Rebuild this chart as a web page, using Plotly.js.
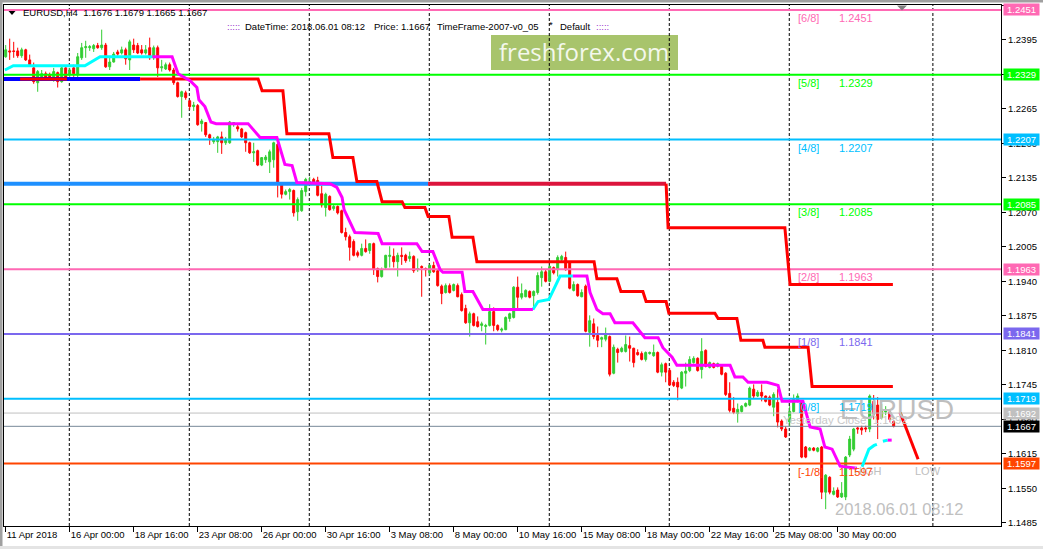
<!DOCTYPE html>
<html><head><meta charset="utf-8">
<script src="https://cdn.plot.ly/plotly-3.0.1.min.js"></script>
<style>html,body{margin:0;padding:0;background:#fff;}#chart{width:1043px;height:549px;}</style>
</head><body><div id="chart"></div>
<script>
// ---- candle data (EURUSD H4, 11 Apr 2018 08:00 .. 1 Jun 2018 08:00) ----
const opens=[1.2363,1.2374,1.2374,1.2374,1.2365,1.2376,1.2357,1.2342,1.2314,1.2325,
1.2331,1.2329,1.2323,1.2333,1.2316,1.2342,1.2329,1.2342,1.2329,1.2361,
1.2380,1.2380,1.2378,1.2384,1.2380,1.2385,1.2344,1.2353,1.2372,1.2370,
1.2376,1.2357,1.2385,1.2384,1.2376,1.2370,1.2380,1.2361,1.2380,1.2342,
1.2340,1.2348,1.2338,1.2314,1.2288,1.2295,1.2280,1.2269,1.2271,1.2237,
1.2239,1.2216,1.2203,1.2203,1.2212,1.2201,1.2201,1.2235,1.2231,1.2227,
1.2220,1.2201,1.2182,1.2186,1.2159,1.2169,1.2165,1.2169,1.2198,1.2122,
1.2104,1.2109,1.2111,1.2071,1.2073,1.2109,1.2126,1.2132,1.2130,1.2105,
1.2079,1.2100,1.2077,1.2081,1.2073,1.2032,1.2024,1.2015,1.1994,1.1989,
1.2002,1.1998,1.2011,1.1964,1.1949,1.1966,1.1987,1.1987,1.1977,1.1989,
1.1989,1.1983,1.1987,1.1962,1.1968,1.1964,1.1956,1.1970,1.1960,1.1931,
1.1919,1.1932,1.1923,1.1932,1.1915,1.1889,1.1862,1.1879,1.1864,1.1857,
1.1855,1.1857,1.1883,1.1857,1.1848,1.1849,1.1870,1.1872,1.1929,1.1910,
1.1911,1.1921,1.1913,1.1919,1.1947,1.1958,1.1940,1.1966,1.1962,1.1981,
1.1985,1.1975,1.1923,1.1934,1.1911,1.1931,1.1844,1.1860,1.1838,1.1831,
1.1831,1.1836,1.1767,1.1812,1.1808,1.1808,1.1819,1.1814,1.1806,1.1804,
1.1793,1.1804,1.1800,1.1806,1.1769,1.1785,1.1772,1.1750,1.1750,1.1739,
1.1767,1.1772,1.1787,1.1795,1.1774,1.1810,1.1778,1.1785,1.1780,1.1780,
1.1767,1.1729,1.1701,1.1691,1.1695,1.1705,1.1707,1.1737,1.1724,1.1731,
1.1724,1.1722,1.1703,1.1712,1.1677,1.1662,1.1675,1.1695,1.1714,1.1714,
1.1628,1.1622,1.1626,1.1620,1.1628,1.1543,1.1571,1.1539,1.1547,1.1534,
1.1534,1.1613,1.1624,1.1664,1.1664,1.1664,1.1662,1.1714,1.1707,1.1684,
1.1694,1.1694,1.1676];
const highs=[1.2385,1.2397,1.2391,1.2380,1.2380,1.2378,1.2367,1.2352,1.2338,1.2338,
1.2335,1.2333,1.2342,1.2335,1.2344,1.2344,1.2342,1.2348,1.2370,1.2389,
1.2393,1.2385,1.2387,1.2389,1.2414,1.2389,1.2361,1.2372,1.2376,1.2382,
1.2380,1.2395,1.2397,1.2389,1.2385,1.2385,1.2399,1.2384,1.2384,1.2357,
1.2352,1.2352,1.2342,1.2316,1.2299,1.2299,1.2282,1.2278,1.2274,1.2246,
1.2240,1.2218,1.2212,1.2214,1.2222,1.2212,1.2242,1.2240,1.2235,1.2229,
1.2222,1.2203,1.2201,1.2188,1.2174,1.2178,1.2188,1.2203,1.2201,1.2126,
1.2113,1.2116,1.2113,1.2098,1.2116,1.2135,1.2137,1.2135,1.2137,1.2120,
1.2107,1.2102,1.2084,1.2083,1.2075,1.2041,1.2028,1.2019,1.1998,1.2011,
1.2019,1.2011,1.2013,1.1966,1.1966,1.1990,1.2006,1.2002,1.1994,1.2004,
1.1992,1.1996,1.1989,1.1983,1.1970,1.1966,1.1972,1.1977,1.1962,1.1934,
1.1936,1.1936,1.1936,1.1936,1.1919,1.1896,1.1883,1.1881,1.1874,1.1864,
1.1860,1.1897,1.1891,1.1859,1.1853,1.1874,1.1881,1.1931,1.1949,1.1936,
1.1925,1.1923,1.1923,1.1957,1.1968,1.1962,1.1970,1.1968,1.1989,1.1990,
1.1996,1.1977,1.1940,1.1936,1.1925,1.1934,1.1876,1.1870,1.1855,1.1836,
1.1853,1.1838,1.1821,1.1815,1.1817,1.1838,1.1836,1.1815,1.1812,1.1808,
1.1808,1.1808,1.1821,1.1808,1.1787,1.1787,1.1776,1.1754,1.1759,1.1771,
1.1787,1.1799,1.1799,1.1797,1.1833,1.1812,1.1789,1.1787,1.1787,1.1784,
1.1769,1.1750,1.1722,1.1710,1.1707,1.1712,1.1742,1.1746,1.1735,1.1746,
1.1725,1.1725,1.1731,1.1737,1.1680,1.1667,1.1705,1.1727,1.1729,1.1716,
1.1630,1.1628,1.1628,1.1628,1.1630,1.1577,1.1573,1.1552,1.1552,1.1562,
1.1611,1.1649,1.1664,1.1666,1.1668,1.1668,1.1727,1.1726,1.1722,1.1709,
1.1705,1.1699,1.1679];
const lows=[1.2361,1.2357,1.2361,1.2361,1.2361,1.2355,1.2344,1.2312,1.2297,1.2320,
1.2320,1.2320,1.2316,1.2305,1.2314,1.2320,1.2323,1.2325,1.2323,1.2357,
1.2361,1.2374,1.2372,1.2378,1.2376,1.2342,1.2338,1.2352,1.2365,1.2367,
1.2348,1.2338,1.2370,1.2368,1.2367,1.2367,1.2357,1.2357,1.2325,1.2335,
1.2338,1.2335,1.2310,1.2286,1.2248,1.2282,1.2263,1.2261,1.2233,1.2222,
1.2212,1.2197,1.2199,1.2182,1.2180,1.2197,1.2199,1.2231,1.2222,1.2210,
1.2184,1.2180,1.2165,1.2157,1.2157,1.2163,1.2144,1.2154,1.2098,1.2096,
1.2102,1.2094,1.2062,1.2054,1.2071,1.2100,1.2122,1.2122,1.2100,1.2079,
1.2062,1.2073,1.2073,1.2066,1.2030,1.2017,1.1979,1.1987,1.1985,1.1987,
1.1994,1.1992,1.1952,1.1938,1.1947,1.1962,1.1966,1.1966,1.1949,1.1971,
1.1975,1.1977,1.1956,1.1958,1.1911,1.1949,1.1951,1.1956,1.1930,1.1897,
1.1917,1.1917,1.1921,1.1910,1.1883,1.1860,1.1836,1.1855,1.1853,1.1846,
1.1821,1.1855,1.1846,1.1846,1.1844,1.1848,1.1864,1.1870,1.1887,1.1906,
1.1910,1.1908,1.1887,1.1915,1.1930,1.1938,1.1938,1.1953,1.1949,1.1977,
1.1960,1.1925,1.1921,1.1911,1.1910,1.1844,1.1817,1.1831,1.1816,1.1816,
1.1827,1.1761,1.1765,1.1787,1.1806,1.1806,1.1789,1.1778,1.1800,1.1791,
1.1789,1.1802,1.1798,1.1767,1.1761,1.1750,1.1743,1.1741,1.1716,1.1737,
1.1742,1.1769,1.1785,1.1770,1.1757,1.1778,1.1776,1.1776,1.1778,1.1763,
1.1724,1.1693,1.1690,1.1674,1.1693,1.1703,1.1705,1.1720,1.1722,1.1714,
1.1712,1.1705,1.1686,1.1665,1.1658,1.1645,1.1667,1.1693,1.1712,1.1607,
1.1607,1.1620,1.1620,1.1618,1.1530,1.1511,1.1539,1.1537,1.1532,1.1532,
1.1528,1.1609,1.1620,1.1653,1.1651,1.1656,1.1656,1.1680,1.1643,1.1680,
1.1688,1.1675,1.1665];
const closes=[1.2376,1.2372,1.2373,1.2365,1.2376,1.2357,1.2348,1.2316,1.2335,1.2331,
1.2323,1.2325,1.2335,1.2316,1.2342,1.2323,1.2338,1.2331,1.2363,1.2380,
1.2382,1.2382,1.2384,1.2380,1.2385,1.2344,1.2353,1.2368,1.2368,1.2376,
1.2359,1.2391,1.2376,1.2370,1.2370,1.2376,1.2361,1.2380,1.2342,1.2344,
1.2348,1.2338,1.2314,1.2288,1.2297,1.2286,1.2269,1.2272,1.2235,1.2242,
1.2216,1.2210,1.2207,1.2212,1.2201,1.2208,1.2240,1.2239,1.2227,1.2212,
1.2201,1.2182,1.2184,1.2159,1.2173,1.2174,1.2184,1.2201,1.2126,1.2104,
1.2109,1.2113,1.2069,1.2094,1.2111,1.2132,1.2128,1.2126,1.2102,1.2084,
1.2104,1.2075,1.2081,1.2069,1.2032,1.2024,1.2004,1.1989,1.1989,1.2002,
1.1996,1.2011,1.1962,1.1949,1.1962,1.1989,1.1989,1.1977,1.1989,1.1987,
1.1979,1.1987,1.1960,1.1964,1.1966,1.1962,1.1970,1.1958,1.1932,1.1917,
1.1932,1.1919,1.1934,1.1911,1.1885,1.1862,1.1879,1.1857,1.1855,1.1860,
1.1857,1.1883,1.1857,1.1849,1.1850,1.1872,1.1879,1.1929,1.1910,1.1917,
1.1923,1.1910,1.1921,1.1951,1.1958,1.1940,1.1968,1.1956,1.1985,1.1987,
1.1962,1.1927,1.1934,1.1913,1.1919,1.1846,1.1866,1.1836,1.1829,1.1834,
1.1840,1.1765,1.1816,1.1806,1.1814,1.1821,1.1814,1.1787,1.1802,1.1793,
1.1806,1.1806,1.1806,1.1769,1.1783,1.1769,1.1745,1.1744,1.1741,1.1769,
1.1771,1.1793,1.1795,1.1772,1.1808,1.1780,1.1787,1.1778,1.1785,1.1765,
1.1727,1.1697,1.1693,1.1699,1.1705,1.1710,1.1739,1.1724,1.1731,1.1724,
1.1714,1.1707,1.1727,1.1675,1.1662,1.1647,1.1695,1.1718,1.1724,1.1609,
1.1609,1.1626,1.1622,1.1626,1.1543,1.1575,1.1543,1.1545,1.1534,1.1541,
1.1609,1.1643,1.1662,1.1662,1.1660,1.1662,1.1724,1.1690,1.1680,1.1699,
1.1697,1.1680,1.1667];

// ---- axis tick data ----
const tickBars=[0,16,32,48,64,80,96,112,128,144,160,176,192,208];
const tickLabels=['11 Apr 2018','16 Apr 00:00','18 Apr 16:00','23 Apr 08:00','26 Apr 00:00','30 Apr 16:00','3 May 08:00','8 May 00:00','10 May 16:00','15 May 08:00','18 May 00:00','22 May 16:00','25 May 08:00','30 May 00:00'];
const yTicks=[1.2460,1.2395,1.2330,1.2265,1.2200,1.2135,1.2070,1.2005,1.1940,1.1875,1.1810,1.1745,1.1680,1.1615,1.1550,1.1485];
const separatorBars=[15.9,45.9,75.9,105.9,135.9,165.9,195.9,231.8];

// ---- Murrey math levels ----
const murreyLevels=[1.2451,1.2329,1.2207,1.2085,1.1963,1.1841,1.1719,1.1597];
const murreyNames=['[6/8]','[5/8]','[4/8]','[3/8]','[2/8]','[1/8]','[0/8]','[-1/8]'];
const murreyColors=['#FF69B4','#00FF00','#00BFFF','#00FF00','#FF69B4','#7B68EE','#00BFFF','#FF4500'];
const yesterdayClose=1.1692, lastPrice=1.1667;

// ---- indicator lines (bar index, price) ----
const redStepX=[3.6,15.3,null,33.6,63.1,64.1,69.3,70.3,80.8,81.8,86.8,87.8,92.8,94.1,99.1,99.8,104.8,105.6,110.8,111.6,116.8,117.8,147.1,147.8,152.8,153.8,159.3,160.1,165.1,165.8,177.3,178.1,182.8,183.8,189.3,189.8,200.6,201.6,221.8];
const redStepY=[1.2321,1.2321,null,1.2321,1.2321,1.2299,1.2299,1.2218,1.2218,1.2173,1.2173,1.2128,1.2128,1.2090,1.2090,1.2079,1.2079,1.2062,1.2062,1.2023,1.2023,1.1977,1.1977,1.1945,1.1945,1.1921,1.1921,1.1902,1.1902,1.1880,1.1880,1.1870,1.1870,1.1829,1.1829,1.1816,1.1816,1.1742,1.1742];
const upperHX=[105.6,165.1], upperHY=[1.2124,1.2124];
const upperStepX=[165.1,165.6,194.8,196.1,221.8];
const upperStepY=[1.2124,1.2041,1.2041,1.1934,1.1934];
const blueX=[-1,33.6], blueY=[1.2321,1.2321];
const dodgerX=[-1,105.6], dodgerY=[1.2124,1.2124];
const magentaX=[36.7,41.6,43.1,46.1,47.8,48.3,49.8,51.3,52.6,60.6,63.6,67.8,69.8,71.6,72.8,81.1,82.8,84.1,84.6,86.1,87.3,93.1,94.1,102.8,104.1,106.8,108.6,109.3,114.1,114.8,116.8,119.3,131.8,null,
 141.8,145.3,146.1,147.8,149.3,151.1,152.3,156.8,159.8,163.1,164.3,166.6,167.8,181.1,182.3,184.3,185.6,190.3,193.1,194.1,199.3,201.1,203.6,204.8,206.6,207.8,208.6,212.8,null,220.5,221.5];
const magentaY=[1.2363,1.2363,1.2331,1.2318,1.2305,1.2282,1.2269,1.2240,1.2237,1.2237,1.2211,1.2211,1.2160,1.2158,1.2126,1.2124,1.2117,1.2098,1.2075,1.2052,1.2032,1.2030,1.2011,1.2011,1.1996,1.1996,1.1962,1.1957,1.1957,1.1921,1.1921,1.1887,1.1887,null,
 1.1950,1.1950,1.1919,1.1887,1.1879,1.1879,1.1862,1.1862,1.1834,1.1834,1.1815,1.1797,1.1782,1.1782,1.1760,1.1760,1.1750,1.1750,1.1744,1.1714,1.1714,1.1666,1.1662,1.1628,1.1624,1.1605,1.1592,1.1588,null,1.1641,1.1641];
const cyanX=[-0.2,1.9,19.8,23.6,36.7,null,131.8,133.1,135.8,137.3,138.6,141.8,null,214.1,215.8,217.1,217.8,null,219.3,220.5];
const cyanY=[1.2338,1.2346,1.2346,1.2363,1.2363,null,1.1887,1.1902,1.1906,1.1929,1.1950,1.1950,null,1.1591,1.1624,1.1631,1.1633,null,1.1639,1.1641];
const projX=[223.6,228.1], projY=[1.1693,1.1605];

// ---- geometry helpers (layout only) ----
const W=1043,H=549,L=4,T=5,R=42,B=23;
const PW=W-L-R, PH=H-T-B;
const px=x=>(x-L)/PW;
const py=y=>(H-B-y)/PH;
const FONT='Liberation Sans, Arial, sans-serif';

const bars=opens.map((_,i)=>i);
const traces=[];
traces.push({type:'candlestick',x:bars,open:opens,high:highs,low:lows,close:closes,
  increasing:{line:{color:'#32CD32',width:1},fillcolor:'#32CD32'},
  decreasing:{line:{color:'#FF0000',width:1},fillcolor:'#FF0000'},
  whiskerwidth:0,hoverinfo:'skip',showlegend:false});
function line(x,y,color,width){traces.push({type:'scatter',mode:'lines',x:x,y:y,line:{color:color,width:width},hoverinfo:'skip',showlegend:false,connectgaps:false});}
murreyLevels.forEach((v,i)=>line([-1,260],[v,v],murreyColors[i],2));
line([-1,260],[yesterdayClose,yesterdayClose],'#C0C0C0',1);
line([-1,260],[lastPrice,lastPrice],'#778899',1);
line(blueX,blueY,'#0000FF',4);
line(dodgerX,dodgerY,'#1E90FF',4);
line(upperHX,upperHY,'#DC143C',4);
line(upperStepX,upperStepY,'#FF0000',3);
line(redStepX,redStepY,'#FF0000',3);
line(cyanX,cyanY,'#00FFFF',3);
line(magentaX,magentaY,'#FF00FF',3);
line(projX,projY,'#FF0000',3);

const ann=[];
function txt(x,y,text,size,color,anchor,family){ann.push({xref:'paper',yref:'paper',x:px(x),y:py(y),text:text,showarrow:false,xanchor:anchor||'left',yanchor:'middle',font:{family:family||FONT,size:size,color:color}});}
// header
txt(20.7,13,'EURUSD,H4\u00a0\u00a01.1676\u00a01.1679\u00a01.1665\u00a01.1667',9.5,'#000');
txt(225,26,':::::',9.5,'#9932CC');
txt(243,26,'DateTime:\u00a02018.06.01\u00a008:12',9.5,'#000');
txt(372,26,'Price:\u00a01.1667',9.5,'#000');
txt(435,26,'TimeFrame-2007-v0_05',9.5,'#000');
txt(547,24,'*',9.5,'#000');
txt(558,26,'Default',9.5,'#000');
txt(594,26,':::::',9.5,'#9932CC');
txt(583.5,52,'freshforex.com',24,'#F4F8EC','center','Open Sans, sans-serif');
// right-side texts
txt(781,420,'Yesterday\u00a0Close\u00a0\u00a01.1692',11.5,'#C8C8C8');
txt(897,410,'EURUSD',27,'#BEBEBE','center');
txt(852,471,'HIGH',11,'#C0C0C0');
txt(928,471,'LOW',11,'#C0C0C0','center');
txt(899,509,'2018.06.01 08:12',16.5,'#C0C0C0','center');
// murrey labels
murreyLevels.forEach((v,i)=>{
  ann.push({xref:'paper',yref:'y',x:px(796),y:v,yshift:-8,text:murreyNames[i],showarrow:false,xanchor:'left',yanchor:'middle',font:{family:FONT,size:11,color:murreyColors[i]}});
  ann.push({xref:'paper',yref:'y',x:px(837),y:v,yshift:-8,text:v.toFixed(4),showarrow:false,xanchor:'left',yanchor:'middle',font:{family:FONT,size:11,color:murreyColors[i]}});
});
// price boxes on the axis
const boxValues=murreyLevels.concat([yesterdayClose,lastPrice]);
const boxColors=murreyColors.concat(['#C0C0C0','#000000']);
boxValues.forEach((v,i)=>{
  ann.push({xref:'paper',yref:'y',x:1,xshift:1.5,y:v,xanchor:'left',yanchor:'middle',text:v.toFixed(4),showarrow:false,bgcolor:boxColors[i],borderpad:0,width:35,height:11,align:'center',font:{family:FONT,size:9.5,color:'#FFFFFF'}});
});

const shapes=[];
shapes.push({type:'rect',xref:'paper',yref:'paper',x0:px(491),x1:px(678),y0:py(70),y1:py(35),fillcolor:'#A8C46C',line:{width:0},layer:'below'});
separatorBars.forEach(b=>shapes.push({type:'line',xref:'x',yref:'paper',x0:b,x1:b,y0:0,y1:1,line:{color:'#000',width:1,dash:'3px,2px'},layer:'below'}));
// small markers and window frame
shapes.push({type:'path',xref:'paper',yref:'paper',path:`M ${px(8.5)} ${py(11)} L ${px(15.5)} ${py(11)} L ${px(12)} ${py(15)} Z`,fillcolor:'#000',line:{width:0}});
shapes.push({type:'path',xref:'paper',yref:'paper',path:`M ${px(897)} ${py(5.5)} L ${px(907)} ${py(5.5)} L ${px(902)} ${py(10.5)} Z`,fillcolor:'#808080',line:{width:0}});
shapes.push({type:'rect',xref:'paper',yref:'paper',x0:px(0),x1:px(2.5),y0:py(549),y1:py(0),fillcolor:'#A0A0A0',line:{width:0}});
shapes.push({type:'rect',xref:'paper',yref:'paper',x0:px(0),x1:px(1043),y0:py(2.5),y1:py(0),fillcolor:'#A0A0A0',line:{width:0}});
shapes.push({type:'rect',xref:'paper',yref:'paper',x0:px(0),x1:px(1043),y0:py(549),y1:py(546),fillcolor:'#E4E4E4',line:{width:0}});

const layout={width:W,height:H,margin:{l:L,r:R,t:T,b:B,pad:0},paper_bgcolor:'#FFFFFF',plot_bgcolor:'#FFFFFF',showlegend:false,
  xaxis:{range:[-0.425,248.83],showgrid:false,zeroline:false,showline:true,mirror:true,linecolor:'#000',linewidth:1,
    ticks:'outside',ticklen:5,tickcolor:'#000',tickvals:tickBars,ticktext:tickLabels,ticklabelposition:'outside right',tickangle:0,
    tickfont:{family:FONT,size:9.5,color:'#000'},rangeslider:{visible:false},fixedrange:true,automargin:false},
  yaxis:{range:[1.14793,1.24604],side:'right',showgrid:false,zeroline:false,showline:true,mirror:true,linecolor:'#000',linewidth:1,
    ticks:'outside',ticklen:4,tickcolor:'#000',tickvals:yTicks,ticktext:yTicks.map(v=>v.toFixed(4)),
    tickfont:{family:FONT,size:9.5,color:'#000'},fixedrange:true,automargin:false},
  annotations:ann,shapes:shapes};
Plotly.newPlot('chart',traces,layout,{staticPlot:true,displayModeBar:false});
</script></body></html>
